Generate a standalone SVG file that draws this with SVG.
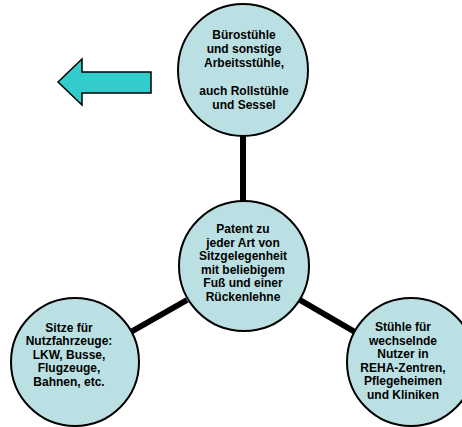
<svg xmlns="http://www.w3.org/2000/svg" width="462" height="427" viewBox="0 0 462 427">
<style>
.node{fill:#BBE0E3;stroke:#000;stroke-width:2}
.t{font-family:"Liberation Sans",Arial,sans-serif;font-weight:bold;font-size:12px;text-anchor:middle;fill:#000}
.con{stroke:#000;stroke-width:6;fill:none}
</style>
<rect width="462" height="427" fill="#fff"/>
<g id="connectors">
<line class="con" x1="243" y1="136" x2="243" y2="202"/>
<line class="con" x1="187" y1="300" x2="129" y2="333"/>
<line class="con" x1="300" y1="300" x2="355" y2="332"/>
</g>
<g id="arrow">
<polygon points="58,82 82,59 82,72 151,72 151,93 82,93 82,105" fill="#33CCCC" stroke="#000" stroke-width="1.5" stroke-linejoin="miter"/>
</g>
<g id="node-top">
<ellipse class="node" cx="243" cy="70" rx="65" ry="66"/>
<text class="t" x="244" y="38.5">Bürostühle</text>
<text class="t" x="244" y="52.5">und sonstige</text>
<text class="t" x="244" y="66.5">Arbeitsstühle,</text>
<text class="t" x="244" y="94.5">auch Rollstühle</text>
<text class="t" x="244" y="108.5">und Sessel</text>
</g>
<g id="node-center">
<circle class="node" cx="244" cy="266" r="65"/>
<text class="t" x="243" y="233">Patent zu</text>
<text class="t" x="243" y="246.6">jeder Art von</text>
<text class="t" x="243" y="260.2">Sitzgelegenheit</text>
<text class="t" x="243" y="273.8">mit beliebigem</text>
<text class="t" x="243" y="287.4">Fuß und einer</text>
<text class="t" x="243" y="301">Rückenlehne</text>
</g>
<g id="node-left">
<circle class="node" cx="75" cy="362" r="64"/>
<text class="t" x="69" y="331.5">Sitze für</text>
<text class="t" x="69" y="345">Nutzfahrzeuge:</text>
<text class="t" x="69" y="358.5">LKW, Busse,</text>
<text class="t" x="69" y="372">Flugzeuge,</text>
<text class="t" x="69" y="385.5">Bahnen, etc.</text>
</g>
<g id="node-right">
<circle class="node" cx="411" cy="362" r="64"/>
<text class="t" x="403" y="331">Stühle für</text>
<text class="t" x="403" y="344.5">wechselnde</text>
<text class="t" x="403" y="358">Nutzer in</text>
<text class="t" x="403" y="371.5">REHA-Zentren,</text>
<text class="t" x="403" y="385">Pflegeheimen</text>
<text class="t" x="403" y="398.5">und Kliniken</text>
</g>
</svg>
